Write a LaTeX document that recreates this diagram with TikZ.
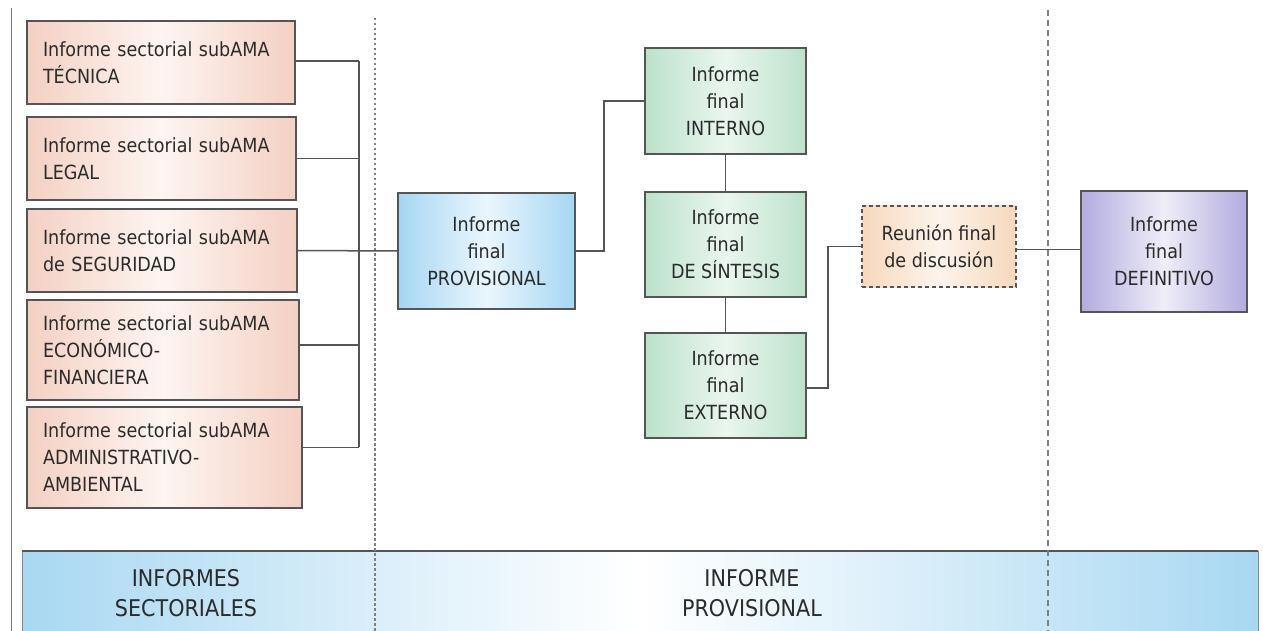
\documentclass[tikz,border=0pt]{standalone}
\usepackage{fontspec}
\setmainfont{DejaVu Sans}[FakeStretch=0.9]
\definecolor{txt}{HTML}{2B2B2B}
\definecolor{edge}{HTML}{555555}
\definecolor{peach}{HTML}{F4D0C3}
\definecolor{peachc}{HTML}{FDF5F1}
\definecolor{grn}{HTML}{BCE2CA}
\definecolor{grnc}{HTML}{EAF6EE}
\definecolor{blu}{HTML}{A6D6F3}
\definecolor{bluc}{HTML}{EAF6FD}
\definecolor{pur}{HTML}{B2ABDF}
\definecolor{purc}{HTML}{EFEEF8}
\definecolor{org}{HTML}{F6D8BC}
\definecolor{orgc}{HTML}{FDF4EC}
\definecolor{band}{HTML}{A9D8F2}
\tikzset{
  box/.style={draw=edge, line width=1.8pt, rectangle, text=txt, inner sep=0pt,
    font=\fontsize{19.5}{27}\selectfont},
  sector/.style={box, left color=peach, right color=peach, middle color=peachc,
    align=left, inner xsep=16pt},
  greenbox/.style={box, left color=grn, right color=grn, middle color=grnc, align=center},
  bluebox/.style={box, left color=blu, right color=blu, middle color=bluc, align=center},
  purplebox/.style={box, left color=pur, right color=pur, middle color=purc, align=center},
  meetbox/.style={box, dashed, dash pattern=on 4pt off 3pt, left color=org, right color=org, middle color=orgc, align=center},
  conn/.style={draw=edge, line width=1.5pt},
  bandtext/.style={text=txt, align=center, font=\fontsize{23}{30}\selectfont},
}
\begin{document}
\begin{tikzpicture}[x=1pt,y=-1pt]
\useasboundingbox (0,0) rectangle (1263,631);
% bottom band
\fill[left color=band, right color=band, middle color=white] (22,551) rectangle (1258,640);
\draw[edge!70, line width=0.8pt] (22,640) -- (22,551) -- (1258,551) -- (1258,640);
\draw[edge, line width=2.5pt] (22,551) -- (1258,551);
\node[bandtext] (lsect) at (186,593) {INFORMES\\SECTORIALES};
\node[bandtext] (lprov) at (752,593) {INFORME\\PROVISIONAL};
% separators
\draw[edge!80, line width=1pt] (11,8) -- (11,631);
\draw[edge!75, line width=1.6pt, dash pattern=on 2.5pt off 2.5pt] (375,18) -- (375,631);
\draw[edge!75, line width=1.4pt, dash pattern=on 6pt off 4pt] (1048,10) -- (1048,631);
% sector boxes
\node[sector, minimum width=268pt, minimum height=83pt, text width=236pt] (b1) at (161,62.5) {Informe sectorial subAMA\\TÉCNICA};
\node[sector, minimum width=269pt, minimum height=83pt, text width=237pt] (b2) at (161.5,158.5) {Informe sectorial subAMA\\LEGAL};
\node[sector, minimum width=270pt, minimum height=83pt, text width=238pt] (b3) at (162,250.5) {Informe sectorial subAMA\\de SEGURIDAD};
\node[sector, minimum width=272pt, minimum height=100pt, text width=240pt] (b4) at (163,350) {Informe sectorial subAMA\\ECONÓMICO-\\FINANCIERA};
\node[sector, minimum width=275pt, minimum height=101pt, text width=243pt] (b5) at (164.5,457.5) {Informe sectorial subAMA\\ADMINISTRATIVO-\\AMBIENTAL};
% central boxes
\node[bluebox, minimum width=177pt, minimum height=116pt] (prov) at (486.5,251) {Informe\\final\\PROVISIONAL};
\node[greenbox, minimum width=161pt, minimum height=106pt] (int) at (725.5,101) {Informe\\final\\INTERNO};
\node[greenbox, minimum width=161pt, minimum height=105pt] (sint) at (725.5,244.5) {Informe\\final\\DE SÍNTESIS};
\node[greenbox, minimum width=161pt, minimum height=105pt] (ext) at (725.5,385.5) {Informe\\final\\EXTERNO};
\node[meetbox, minimum width=154pt, minimum height=81pt] (reu) at (939,246.5) {Reunión final\\de discusión};
\node[purplebox, minimum width=166pt, minimum height=121pt] (def) at (1164,251.5) {Informe\\final\\DEFINITIVO};
% bus
\coordinate (bt) at (359,61);
\coordinate (bb) at (359,447);
\draw[conn] (bt) -- (bb);
\draw[conn] ([yshift=1.5pt]b1.east) -- ([yshift=1.5pt]b1.east -| bt);
\draw[conn] (b2.east) -- (b2.east -| bt);
\draw[conn] (b3.east) -- (prov.west);
\draw[conn] ([yshift=5pt]b4.east) -- ([yshift=5pt]b4.east -| bt);
\draw[conn] ([yshift=10pt]b5.east) -- ([yshift=10pt]b5.east -| bt);
% central connectors
\draw[conn] (prov.east) -- ++(28,0) |- (int.west);
\draw[conn] (int.south) -- (sint.north);
\draw[conn] (sint.south) -- (ext.north);
\draw[conn] ([yshift=-2.5pt]ext.east) -- ++(21,0) |- (reu.west);
\draw[conn] ([yshift=-3pt]reu.east) -- ([yshift=-3pt]reu.east -| def.west);
\end{tikzpicture}
\end{document}
